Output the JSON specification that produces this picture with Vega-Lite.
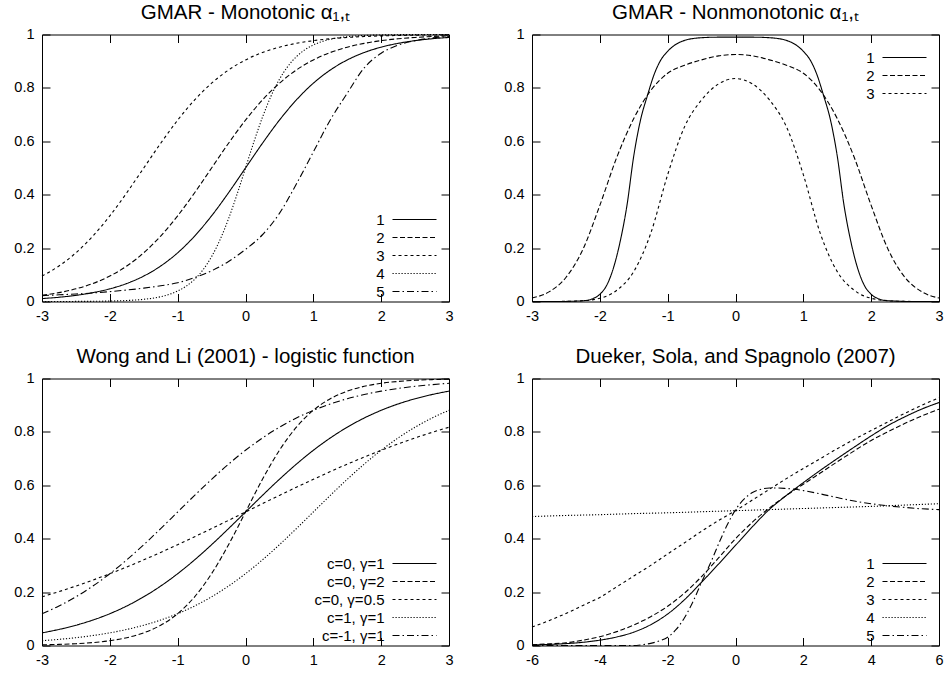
{
"$schema": "https://vega.github.io/schema/vega-lite/v6.json",
"background": "white",
"padding": {"left": 13, "top": 2.5, "right": 2, "bottom": 2},
"columns": 2,
"spacing": {"column": 49, "row": 23},
"datasets": {
"p1": [
{"x":-3,"s":"1","y":0.011},{"x":-2.75,"s":"1","y":0.0159},{"x":-2.5,"s":"1","y":0.023},{"x":-2.25,"s":"1","y":0.0331},{"x":-2,"s":"1","y":0.0474},{"x":-1.75,"s":"1","y":0.0675},{"x":-1.5,"s":"1","y":0.0953},{"x":-1.25,"s":"1","y":0.133},{"x":-1,"s":"1","y":0.1824},{"x":-0.75,"s":"1","y":0.2451},{"x":-0.5,"s":"1","y":0.3208},{"x":-0.25,"s":"1","y":0.4073},{"x":0,"s":"1","y":0.5},{"x":0.25,"s":"1","y":0.5927},{"x":0.5,"s":"1","y":0.6792},{"x":0.75,"s":"1","y":0.7549},{"x":1,"s":"1","y":0.8176},{"x":1.25,"s":"1","y":0.867},{"x":1.5,"s":"1","y":0.9047},{"x":1.75,"s":"1","y":0.9325},{"x":2,"s":"1","y":0.9526},{"x":2.25,"s":"1","y":0.9669},{"x":2.5,"s":"1","y":0.977},{"x":2.75,"s":"1","y":0.9841},{"x":3,"s":"1","y":0.989},
{"x":-3,"s":"2","y":0.023},{"x":-2.75,"s":"2","y":0.0331},{"x":-2.5,"s":"2","y":0.0474},{"x":-2.25,"s":"2","y":0.0675},{"x":-2,"s":"2","y":0.0953},{"x":-1.75,"s":"2","y":0.133},{"x":-1.5,"s":"2","y":0.1824},{"x":-1.25,"s":"2","y":0.2451},{"x":-1,"s":"2","y":0.3208},{"x":-0.75,"s":"2","y":0.4073},{"x":-0.5,"s":"2","y":0.5},{"x":-0.25,"s":"2","y":0.5927},{"x":0,"s":"2","y":0.6792},{"x":0.25,"s":"2","y":0.7549},{"x":0.5,"s":"2","y":0.8176},{"x":0.75,"s":"2","y":0.867},{"x":1,"s":"2","y":0.9047},{"x":1.25,"s":"2","y":0.9325},{"x":1.5,"s":"2","y":0.9526},{"x":1.75,"s":"2","y":0.9669},{"x":2,"s":"2","y":0.977},{"x":2.25,"s":"2","y":0.9841},{"x":2.5,"s":"2","y":0.989},{"x":2.75,"s":"2","y":0.9924},{"x":3,"s":"2","y":0.9948},
{"x":-3,"s":"3","y":0.0953},{"x":-2.75,"s":"3","y":0.133},{"x":-2.5,"s":"3","y":0.1824},{"x":-2.25,"s":"3","y":0.2451},{"x":-2,"s":"3","y":0.3208},{"x":-1.75,"s":"3","y":0.4073},{"x":-1.5,"s":"3","y":0.5},{"x":-1.25,"s":"3","y":0.5927},{"x":-1,"s":"3","y":0.6792},{"x":-0.75,"s":"3","y":0.7549},{"x":-0.5,"s":"3","y":0.8176},{"x":-0.25,"s":"3","y":0.867},{"x":0,"s":"3","y":0.9047},{"x":0.25,"s":"3","y":0.9325},{"x":0.5,"s":"3","y":0.9526},{"x":0.75,"s":"3","y":0.9669},{"x":1,"s":"3","y":0.977},{"x":1.25,"s":"3","y":0.9841},{"x":1.5,"s":"3","y":0.989},{"x":1.75,"s":"3","y":0.9924},{"x":2,"s":"3","y":0.9948},{"x":2.25,"s":"3","y":0.9964},{"x":2.5,"s":"3","y":0.9975},{"x":2.75,"s":"3","y":0.9983},{"x":3,"s":"3","y":0.9988},
{"x":-3,"s":"4","y":0.0001},{"x":-2.5,"s":"4","y":0.0003},{"x":-2,"s":"4","y":0.0017},{"x":-1.75,"s":"4","y":0.0037},{"x":-1.5,"s":"4","y":0.0082},{"x":-1.375,"s":"4","y":0.0121},{"x":-1.25,"s":"4","y":0.018},{"x":-1.125,"s":"4","y":0.0266},{"x":-1,"s":"4","y":0.0392},{"x":-0.875,"s":"4","y":0.0573},{"x":-0.75,"s":"4","y":0.0832},{"x":-0.625,"s":"4","y":0.1192},{"x":-0.5,"s":"4","y":0.168},{"x":-0.375,"s":"4","y":0.2315},{"x":-0.25,"s":"4","y":0.31},{"x":-0.125,"s":"4","y":0.4013},{"x":0,"s":"4","y":0.5},{"x":0.125,"s":"4","y":0.5987},{"x":0.25,"s":"4","y":0.69},{"x":0.375,"s":"4","y":0.7685},{"x":0.5,"s":"4","y":0.832},{"x":0.625,"s":"4","y":0.8808},{"x":0.75,"s":"4","y":0.9168},{"x":0.875,"s":"4","y":0.9427},{"x":1,"s":"4","y":0.9608},{"x":1.125,"s":"4","y":0.9734},{"x":1.25,"s":"4","y":0.982},{"x":1.375,"s":"4","y":0.9879},{"x":1.5,"s":"4","y":0.9918},{"x":1.75,"s":"4","y":0.9963},{"x":2,"s":"4","y":0.9983},{"x":2.5,"s":"4","y":0.9997},{"x":3,"s":"4","y":0.9999},
{"x":-3,"s":"5","y":0.022},{"x":-2.75,"s":"5","y":0.025},{"x":-2.5,"s":"5","y":0.028},{"x":-2.25,"s":"5","y":0.032},{"x":-2,"s":"5","y":0.037},{"x":-1.75,"s":"5","y":0.043},{"x":-1.5,"s":"5","y":0.05},{"x":-1.25,"s":"5","y":0.059},{"x":-1,"s":"5","y":0.07},{"x":-0.75,"s":"5","y":0.09},{"x":-0.5,"s":"5","y":0.115},{"x":-0.25,"s":"5","y":0.15},{"x":0,"s":"5","y":0.195},{"x":0.25,"s":"5","y":0.25},{"x":0.5,"s":"5","y":0.33},{"x":0.75,"s":"5","y":0.44},{"x":1,"s":"5","y":0.56},{"x":1.25,"s":"5","y":0.68},{"x":1.5,"s":"5","y":0.78},{"x":1.75,"s":"5","y":0.875},{"x":2,"s":"5","y":0.93},{"x":2.25,"s":"5","y":0.96},{"x":2.5,"s":"5","y":0.977},{"x":2.75,"s":"5","y":0.987},{"x":3,"s":"5","y":0.992}
],
"p2": [
{"x":-3,"s":"1","y":0},{"x":-2.6,"s":"1","y":0},{"x":-2.4,"s":"1","y":0.001},{"x":-2.2,"s":"1","y":0.004},{"x":-2.1,"s":"1","y":0.011},{"x":-2,"s":"1","y":0.027},{"x":-1.9,"s":"1","y":0.06},{"x":-1.8,"s":"1","y":0.125},{"x":-1.7,"s":"1","y":0.225},{"x":-1.6,"s":"1","y":0.36},{"x":-1.5,"s":"1","y":0.545},{"x":-1.4,"s":"1","y":0.68},{"x":-1.3,"s":"1","y":0.77},{"x":-1.2,"s":"1","y":0.85},{"x":-1.1,"s":"1","y":0.905},{"x":-1,"s":"1","y":0.937},{"x":-0.75,"s":"1","y":0.978},{"x":-0.5,"s":"1","y":0.988},{"x":-0.25,"s":"1","y":0.99},{"x":0,"s":"1","y":0.99},{"x":0.25,"s":"1","y":0.99},{"x":0.5,"s":"1","y":0.988},{"x":0.75,"s":"1","y":0.978},{"x":1,"s":"1","y":0.937},{"x":1.1,"s":"1","y":0.905},{"x":1.2,"s":"1","y":0.85},{"x":1.3,"s":"1","y":0.77},{"x":1.4,"s":"1","y":0.68},{"x":1.5,"s":"1","y":0.545},{"x":1.6,"s":"1","y":0.36},{"x":1.7,"s":"1","y":0.225},{"x":1.8,"s":"1","y":0.125},{"x":1.9,"s":"1","y":0.06},{"x":2,"s":"1","y":0.027},{"x":2.1,"s":"1","y":0.011},{"x":2.2,"s":"1","y":0.004},{"x":2.4,"s":"1","y":0.001},{"x":2.6,"s":"1","y":0},{"x":3,"s":"1","y":0},
{"x":-3,"s":"2","y":0.013},{"x":-2.75,"s":"2","y":0.036},{"x":-2.5,"s":"2","y":0.09},{"x":-2.25,"s":"2","y":0.195},{"x":-2,"s":"2","y":0.36},{"x":-1.75,"s":"2","y":0.54},{"x":-1.5,"s":"2","y":0.685},{"x":-1.25,"s":"2","y":0.79},{"x":-1,"s":"2","y":0.855},{"x":-0.75,"s":"2","y":0.885},{"x":-0.5,"s":"2","y":0.905},{"x":-0.25,"s":"2","y":0.92},{"x":0,"s":"2","y":0.925},{"x":0.25,"s":"2","y":0.92},{"x":0.5,"s":"2","y":0.905},{"x":0.75,"s":"2","y":0.885},{"x":1,"s":"2","y":0.855},{"x":1.25,"s":"2","y":0.79},{"x":1.5,"s":"2","y":0.685},{"x":1.75,"s":"2","y":0.54},{"x":2,"s":"2","y":0.36},{"x":2.25,"s":"2","y":0.195},{"x":2.5,"s":"2","y":0.09},{"x":2.75,"s":"2","y":0.036},{"x":3,"s":"2","y":0.013},
{"x":-3,"s":"3","y":0},{"x":-2.75,"s":"3","y":0},{"x":-2.5,"s":"3","y":0.0005},{"x":-2.25,"s":"3","y":0.003},{"x":-2,"s":"3","y":0.012},{"x":-1.75,"s":"3","y":0.042},{"x":-1.5,"s":"3","y":0.112},{"x":-1.25,"s":"3","y":0.255},{"x":-1,"s":"3","y":0.475},{"x":-0.75,"s":"3","y":0.655},{"x":-0.5,"s":"3","y":0.755},{"x":-0.25,"s":"3","y":0.815},{"x":0,"s":"3","y":0.835},{"x":0.25,"s":"3","y":0.815},{"x":0.5,"s":"3","y":0.755},{"x":0.75,"s":"3","y":0.655},{"x":1,"s":"3","y":0.475},{"x":1.25,"s":"3","y":0.255},{"x":1.5,"s":"3","y":0.112},{"x":1.75,"s":"3","y":0.042},{"x":2,"s":"3","y":0.012},{"x":2.25,"s":"3","y":0.003},{"x":2.5,"s":"3","y":0.0005},{"x":2.75,"s":"3","y":0},{"x":3,"s":"3","y":0}
],
"p3": [
{"x":-3,"s":"c=0, γ=1","y":0.0474},{"x":-2.75,"s":"c=0, γ=1","y":0.0601},{"x":-2.5,"s":"c=0, γ=1","y":0.0759},{"x":-2.25,"s":"c=0, γ=1","y":0.0953},{"x":-2,"s":"c=0, γ=1","y":0.1192},{"x":-1.75,"s":"c=0, γ=1","y":0.148},{"x":-1.5,"s":"c=0, γ=1","y":0.1824},{"x":-1.25,"s":"c=0, γ=1","y":0.2227},{"x":-1,"s":"c=0, γ=1","y":0.2689},{"x":-0.75,"s":"c=0, γ=1","y":0.3208},{"x":-0.5,"s":"c=0, γ=1","y":0.3775},{"x":-0.25,"s":"c=0, γ=1","y":0.4378},{"x":0,"s":"c=0, γ=1","y":0.5},{"x":0.25,"s":"c=0, γ=1","y":0.5622},{"x":0.5,"s":"c=0, γ=1","y":0.6225},{"x":0.75,"s":"c=0, γ=1","y":0.6792},{"x":1,"s":"c=0, γ=1","y":0.7311},{"x":1.25,"s":"c=0, γ=1","y":0.7773},{"x":1.5,"s":"c=0, γ=1","y":0.8176},{"x":1.75,"s":"c=0, γ=1","y":0.852},{"x":2,"s":"c=0, γ=1","y":0.8808},{"x":2.25,"s":"c=0, γ=1","y":0.9047},{"x":2.5,"s":"c=0, γ=1","y":0.9241},{"x":2.75,"s":"c=0, γ=1","y":0.9399},{"x":3,"s":"c=0, γ=1","y":0.9526},
{"x":-3,"s":"c=0, γ=2","y":0.0025},{"x":-2.75,"s":"c=0, γ=2","y":0.0041},{"x":-2.5,"s":"c=0, γ=2","y":0.0067},{"x":-2.25,"s":"c=0, γ=2","y":0.011},{"x":-2,"s":"c=0, γ=2","y":0.018},{"x":-1.75,"s":"c=0, γ=2","y":0.0293},{"x":-1.5,"s":"c=0, γ=2","y":0.0474},{"x":-1.25,"s":"c=0, γ=2","y":0.0759},{"x":-1,"s":"c=0, γ=2","y":0.1192},{"x":-0.75,"s":"c=0, γ=2","y":0.1824},{"x":-0.5,"s":"c=0, γ=2","y":0.2689},{"x":-0.25,"s":"c=0, γ=2","y":0.3775},{"x":0,"s":"c=0, γ=2","y":0.5},{"x":0.25,"s":"c=0, γ=2","y":0.6225},{"x":0.5,"s":"c=0, γ=2","y":0.7311},{"x":0.75,"s":"c=0, γ=2","y":0.8176},{"x":1,"s":"c=0, γ=2","y":0.8808},{"x":1.25,"s":"c=0, γ=2","y":0.9241},{"x":1.5,"s":"c=0, γ=2","y":0.9526},{"x":1.75,"s":"c=0, γ=2","y":0.9707},{"x":2,"s":"c=0, γ=2","y":0.982},{"x":2.25,"s":"c=0, γ=2","y":0.989},{"x":2.5,"s":"c=0, γ=2","y":0.9933},{"x":2.75,"s":"c=0, γ=2","y":0.9959},{"x":3,"s":"c=0, γ=2","y":0.9975},
{"x":-3,"s":"c=0, γ=0.5","y":0.1824},{"x":-2.75,"s":"c=0, γ=0.5","y":0.2018},{"x":-2.5,"s":"c=0, γ=0.5","y":0.2227},{"x":-2.25,"s":"c=0, γ=0.5","y":0.2451},{"x":-2,"s":"c=0, γ=0.5","y":0.2689},{"x":-1.75,"s":"c=0, γ=0.5","y":0.2942},{"x":-1.5,"s":"c=0, γ=0.5","y":0.3208},{"x":-1.25,"s":"c=0, γ=0.5","y":0.3486},{"x":-1,"s":"c=0, γ=0.5","y":0.3775},{"x":-0.75,"s":"c=0, γ=0.5","y":0.4073},{"x":-0.5,"s":"c=0, γ=0.5","y":0.4378},{"x":-0.25,"s":"c=0, γ=0.5","y":0.4688},{"x":0,"s":"c=0, γ=0.5","y":0.5},{"x":0.25,"s":"c=0, γ=0.5","y":0.5312},{"x":0.5,"s":"c=0, γ=0.5","y":0.5622},{"x":0.75,"s":"c=0, γ=0.5","y":0.5927},{"x":1,"s":"c=0, γ=0.5","y":0.6225},{"x":1.25,"s":"c=0, γ=0.5","y":0.6514},{"x":1.5,"s":"c=0, γ=0.5","y":0.6792},{"x":1.75,"s":"c=0, γ=0.5","y":0.7058},{"x":2,"s":"c=0, γ=0.5","y":0.7311},{"x":2.25,"s":"c=0, γ=0.5","y":0.7549},{"x":2.5,"s":"c=0, γ=0.5","y":0.7773},{"x":2.75,"s":"c=0, γ=0.5","y":0.7982},{"x":3,"s":"c=0, γ=0.5","y":0.8176},
{"x":-3,"s":"c=1, γ=1","y":0.018},{"x":-2.75,"s":"c=1, γ=1","y":0.023},{"x":-2.5,"s":"c=1, γ=1","y":0.0293},{"x":-2.25,"s":"c=1, γ=1","y":0.0373},{"x":-2,"s":"c=1, γ=1","y":0.0474},{"x":-1.75,"s":"c=1, γ=1","y":0.0601},{"x":-1.5,"s":"c=1, γ=1","y":0.0759},{"x":-1.25,"s":"c=1, γ=1","y":0.0953},{"x":-1,"s":"c=1, γ=1","y":0.1192},{"x":-0.75,"s":"c=1, γ=1","y":0.148},{"x":-0.5,"s":"c=1, γ=1","y":0.1824},{"x":-0.25,"s":"c=1, γ=1","y":0.2227},{"x":0,"s":"c=1, γ=1","y":0.2689},{"x":0.25,"s":"c=1, γ=1","y":0.3208},{"x":0.5,"s":"c=1, γ=1","y":0.3775},{"x":0.75,"s":"c=1, γ=1","y":0.4378},{"x":1,"s":"c=1, γ=1","y":0.5},{"x":1.25,"s":"c=1, γ=1","y":0.5622},{"x":1.5,"s":"c=1, γ=1","y":0.6225},{"x":1.75,"s":"c=1, γ=1","y":0.6792},{"x":2,"s":"c=1, γ=1","y":0.7311},{"x":2.25,"s":"c=1, γ=1","y":0.7773},{"x":2.5,"s":"c=1, γ=1","y":0.8176},{"x":2.75,"s":"c=1, γ=1","y":0.852},{"x":3,"s":"c=1, γ=1","y":0.8808},
{"x":-3,"s":"c=-1, γ=1","y":0.1192},{"x":-2.75,"s":"c=-1, γ=1","y":0.148},{"x":-2.5,"s":"c=-1, γ=1","y":0.1824},{"x":-2.25,"s":"c=-1, γ=1","y":0.2227},{"x":-2,"s":"c=-1, γ=1","y":0.2689},{"x":-1.75,"s":"c=-1, γ=1","y":0.3208},{"x":-1.5,"s":"c=-1, γ=1","y":0.3775},{"x":-1.25,"s":"c=-1, γ=1","y":0.4378},{"x":-1,"s":"c=-1, γ=1","y":0.5},{"x":-0.75,"s":"c=-1, γ=1","y":0.5622},{"x":-0.5,"s":"c=-1, γ=1","y":0.6225},{"x":-0.25,"s":"c=-1, γ=1","y":0.6792},{"x":0,"s":"c=-1, γ=1","y":0.7311},{"x":0.25,"s":"c=-1, γ=1","y":0.7773},{"x":0.5,"s":"c=-1, γ=1","y":0.8176},{"x":0.75,"s":"c=-1, γ=1","y":0.852},{"x":1,"s":"c=-1, γ=1","y":0.8808},{"x":1.25,"s":"c=-1, γ=1","y":0.9047},{"x":1.5,"s":"c=-1, γ=1","y":0.9241},{"x":1.75,"s":"c=-1, γ=1","y":0.9399},{"x":2,"s":"c=-1, γ=1","y":0.9526},{"x":2.25,"s":"c=-1, γ=1","y":0.9627},{"x":2.5,"s":"c=-1, γ=1","y":0.9707},{"x":2.75,"s":"c=-1, γ=1","y":0.977},{"x":3,"s":"c=-1, γ=1","y":0.982}
],
"p4": [
{"x":-6,"s":"1","y":0.002},{"x":-5.5,"s":"1","y":0.004},{"x":-5,"s":"1","y":0.007},{"x":-4.5,"s":"1","y":0.012},{"x":-4,"s":"1","y":0.02},{"x":-3.5,"s":"1","y":0.032},{"x":-3,"s":"1","y":0.05},{"x":-2.5,"s":"1","y":0.078},{"x":-2,"s":"1","y":0.118},{"x":-1.5,"s":"1","y":0.172},{"x":-1,"s":"1","y":0.237},{"x":-0.5,"s":"1","y":0.305},{"x":0,"s":"1","y":0.375},{"x":0.5,"s":"1","y":0.445},{"x":1,"s":"1","y":0.51},{"x":1.5,"s":"1","y":0.562},{"x":2,"s":"1","y":0.61},{"x":2.5,"s":"1","y":0.656},{"x":3,"s":"1","y":0.7},{"x":3.5,"s":"1","y":0.743},{"x":4,"s":"1","y":0.785},{"x":4.5,"s":"1","y":0.824},{"x":5,"s":"1","y":0.857},{"x":5.5,"s":"1","y":0.886},{"x":6,"s":"1","y":0.91},
{"x":-6,"s":"2","y":0.003},{"x":-5.5,"s":"2","y":0.006},{"x":-5,"s":"2","y":0.01},{"x":-4.5,"s":"2","y":0.02},{"x":-4,"s":"2","y":0.033},{"x":-3.5,"s":"2","y":0.052},{"x":-3,"s":"2","y":0.077},{"x":-2.5,"s":"2","y":0.108},{"x":-2,"s":"2","y":0.147},{"x":-1.5,"s":"2","y":0.197},{"x":-1,"s":"2","y":0.258},{"x":-0.5,"s":"2","y":0.328},{"x":0,"s":"2","y":0.4},{"x":0.5,"s":"2","y":0.462},{"x":1,"s":"2","y":0.515},{"x":1.5,"s":"2","y":0.562},{"x":2,"s":"2","y":0.604},{"x":2.5,"s":"2","y":0.646},{"x":3,"s":"2","y":0.688},{"x":3.5,"s":"2","y":0.729},{"x":4,"s":"2","y":0.768},{"x":4.5,"s":"2","y":0.801},{"x":5,"s":"2","y":0.832},{"x":5.5,"s":"2","y":0.86},{"x":6,"s":"2","y":0.885},
{"x":-6,"s":"3","y":0.069},{"x":-5.5,"s":"3","y":0.093},{"x":-5,"s":"3","y":0.12},{"x":-4.5,"s":"3","y":0.15},{"x":-4,"s":"3","y":0.18},{"x":-3.5,"s":"3","y":0.22},{"x":-3,"s":"3","y":0.26},{"x":-2.5,"s":"3","y":0.3},{"x":-2,"s":"3","y":0.343},{"x":-1.5,"s":"3","y":0.385},{"x":-1,"s":"3","y":0.428},{"x":-0.5,"s":"3","y":0.468},{"x":0,"s":"3","y":0.505},{"x":0.5,"s":"3","y":0.545},{"x":1,"s":"3","y":0.585},{"x":1.5,"s":"3","y":0.625},{"x":2,"s":"3","y":0.663},{"x":2.5,"s":"3","y":0.7},{"x":3,"s":"3","y":0.737},{"x":3.5,"s":"3","y":0.772},{"x":4,"s":"3","y":0.805},{"x":4.5,"s":"3","y":0.838},{"x":5,"s":"3","y":0.87},{"x":5.5,"s":"3","y":0.9},{"x":6,"s":"3","y":0.928},
{"x":-6,"s":"4","y":0.483},{"x":-5,"s":"4","y":0.487},{"x":-4,"s":"4","y":0.49},{"x":-3,"s":"4","y":0.494},{"x":-2,"s":"4","y":0.497},{"x":-1,"s":"4","y":0.501},{"x":0,"s":"4","y":0.505},{"x":1,"s":"4","y":0.509},{"x":2,"s":"4","y":0.513},{"x":3,"s":"4","y":0.517},{"x":4,"s":"4","y":0.521},{"x":5,"s":"4","y":0.526},{"x":6,"s":"4","y":0.531},
{"x":-6,"s":"5","y":0},{"x":-4,"s":"5","y":0},{"x":-3,"s":"5","y":0},{"x":-2.75,"s":"5","y":0.003},{"x":-2.5,"s":"5","y":0.008},{"x":-2.25,"s":"5","y":0.017},{"x":-2,"s":"5","y":0.031},{"x":-1.75,"s":"5","y":0.06},{"x":-1.5,"s":"5","y":0.105},{"x":-1.25,"s":"5","y":0.165},{"x":-1,"s":"5","y":0.237},{"x":-0.75,"s":"5","y":0.305},{"x":-0.5,"s":"5","y":0.38},{"x":-0.25,"s":"5","y":0.45},{"x":0,"s":"5","y":0.508},{"x":0.25,"s":"5","y":0.548},{"x":0.5,"s":"5","y":0.573},{"x":0.75,"s":"5","y":0.585},{"x":1,"s":"5","y":0.59},{"x":1.25,"s":"5","y":0.59},{"x":1.5,"s":"5","y":0.588},{"x":1.75,"s":"5","y":0.585},{"x":2,"s":"5","y":0.58},{"x":2.5,"s":"5","y":0.568},{"x":3,"s":"5","y":0.554},{"x":3.5,"s":"5","y":0.541},{"x":4,"s":"5","y":0.531},{"x":4.5,"s":"5","y":0.523},{"x":5,"s":"5","y":0.517},{"x":5.5,"s":"5","y":0.512},{"x":6,"s":"5","y":0.509}
]
},
"concat": [
{
"title": {"text": "GMAR - Monotonic α₁,ₜ"},
"width": 407, "height": 267,
"data": {"name": "p1"},
"mark": {"type": "line", "interpolate": "monotone", "color": "black", "strokeWidth": 1.1},
"encoding": {
"x": {"field": "x", "type": "quantitative", "scale": {"domain": [-3, 3], "nice": false, "zero": false}, "axis": {"values": [-3,-2,-1,0,1,2,3], "labelExpr": "'' + datum.value", "title": null}},
"y": {"field": "y", "type": "quantitative", "scale": {"domain": [0, 1], "nice": false}, "axis": {"values": [0,0.2,0.4,0.6,0.8,1], "labelExpr": "'' + datum.value", "title": null}},
"strokeDash": {"field": "s", "type": "nominal", "scale": {"domain": ["1","2","3","4","5"], "range": [[1,0],[5,2.5],[3,3],[1.2,1.8],[7,3,1.5,3]]},
 "legend": {"orient": "none", "legendX": 363.5, "legendY": 176, "title": null, "symbolType": "M-2.75,0H2.75", "symbolSize": 256, "symbolStrokeColor": "black", "symbolStrokeWidth": 1.1, "symbolFillColor": "transparent", "rowPadding": 1, "labelAlign": "right", "labelOffset": -39, "labelFontSize": 15, "labelColor": "black", "padding": 0, "labelLimit": 300}}
}
},
{
"title": {"text": "GMAR - Nonmonotonic α₁,ₜ"},
"width": 407, "height": 267,
"data": {"name": "p2"},
"mark": {"type": "line", "interpolate": "monotone", "color": "black", "strokeWidth": 1.1},
"encoding": {
"x": {"field": "x", "type": "quantitative", "scale": {"domain": [-3, 3], "nice": false, "zero": false}, "axis": {"values": [-3,-2,-1,0,1,2,3], "labelExpr": "'' + datum.value", "title": null}},
"y": {"field": "y", "type": "quantitative", "scale": {"domain": [0, 1], "nice": false}, "axis": {"values": [0,0.2,0.4,0.6,0.8,1], "labelExpr": "'' + datum.value", "title": null}},
"strokeDash": {"field": "s", "type": "nominal", "scale": {"domain": ["1","2","3"], "range": [[1,0],[5,2.5],[3,3]]},
 "legend": {"orient": "none", "legendX": 363.5, "legendY": 14, "title": null, "symbolType": "M-2.75,0H2.75", "symbolSize": 256, "symbolStrokeColor": "black", "symbolStrokeWidth": 1.1, "symbolFillColor": "transparent", "rowPadding": 1, "labelAlign": "right", "labelOffset": -39, "labelFontSize": 15, "labelColor": "black", "padding": 0, "labelLimit": 300}}
}
},
{
"title": {"text": "Wong and Li (2001) - logistic function"},
"width": 407, "height": 267,
"data": {"name": "p3"},
"mark": {"type": "line", "interpolate": "monotone", "color": "black", "strokeWidth": 1.1},
"encoding": {
"x": {"field": "x", "type": "quantitative", "scale": {"domain": [-3, 3], "nice": false, "zero": false}, "axis": {"values": [-3,-2,-1,0,1,2,3], "labelExpr": "'' + datum.value", "title": null}},
"y": {"field": "y", "type": "quantitative", "scale": {"domain": [0, 1], "nice": false}, "axis": {"values": [0,0.2,0.4,0.6,0.8,1], "labelExpr": "'' + datum.value", "title": null}},
"strokeDash": {"field": "s", "type": "nominal", "scale": {"domain": ["c=0, γ=1","c=0, γ=2","c=0, γ=0.5","c=1, γ=1","c=-1, γ=1"], "range": [[1,0],[5,2.5],[3,3],[1.2,1.8],[7,3,1.5,3]]},
 "legend": {"orient": "none", "legendX": 363.5, "legendY": 176, "title": null, "symbolType": "M-2.75,0H2.75", "symbolSize": 256, "symbolStrokeColor": "black", "symbolStrokeWidth": 1.1, "symbolFillColor": "transparent", "rowPadding": 1, "labelAlign": "right", "labelOffset": -39, "labelFontSize": 15, "labelColor": "black", "padding": 0, "labelLimit": 300}}
}
},
{
"title": {"text": "Dueker, Sola, and Spagnolo (2007)"},
"width": 407, "height": 267,
"data": {"name": "p4"},
"mark": {"type": "line", "interpolate": "monotone", "color": "black", "strokeWidth": 1.1},
"encoding": {
"x": {"field": "x", "type": "quantitative", "scale": {"domain": [-6, 6], "nice": false, "zero": false}, "axis": {"values": [-6,-4,-2,0,2,4,6], "labelExpr": "'' + datum.value", "title": null}},
"y": {"field": "y", "type": "quantitative", "scale": {"domain": [0, 1], "nice": false}, "axis": {"values": [0,0.2,0.4,0.6,0.8,1], "labelExpr": "'' + datum.value", "title": null}},
"strokeDash": {"field": "s", "type": "nominal", "scale": {"domain": ["1","2","3","4","5"], "range": [[1,0],[5,2.5],[3,3],[1.2,1.8],[7,3,1.5,3]]},
 "legend": {"orient": "none", "legendX": 363.5, "legendY": 176, "title": null, "symbolType": "M-2.75,0H2.75", "symbolSize": 256, "symbolStrokeColor": "black", "symbolStrokeWidth": 1.1, "symbolFillColor": "transparent", "rowPadding": 1, "labelAlign": "right", "labelOffset": -39, "labelFontSize": 15, "labelColor": "black", "padding": 0, "labelLimit": 300}}
}
}
],
"resolve": {"scale": {"strokeDash": "independent"}, "legend": {"strokeDash": "independent"}},
"config": {
"font": "Liberation Sans",
"view": {"stroke": "black", "strokeWidth": 1},
"axis": {"grid": true, "gridColor": "black", "gridOpacity": 1, "gridWidth": 1, "domain": false, "ticks": false, "labelColor": "black", "labelFont": "Liberation Sans", "labelFontSize": 14.5, "labelPadding": 8, "labelFlush": false},
"axisX": {"gridDash": [8, 251, 8, 2000]},
"axisY": {"gridDash": [8, 391, 8, 2000]},
"title": {"font": "Liberation Sans", "fontSize": 20.5, "fontWeight": "normal", "color": "black", "frame": "group", "anchor": "middle", "baseline": "alphabetic", "offset": 3}
}
}
